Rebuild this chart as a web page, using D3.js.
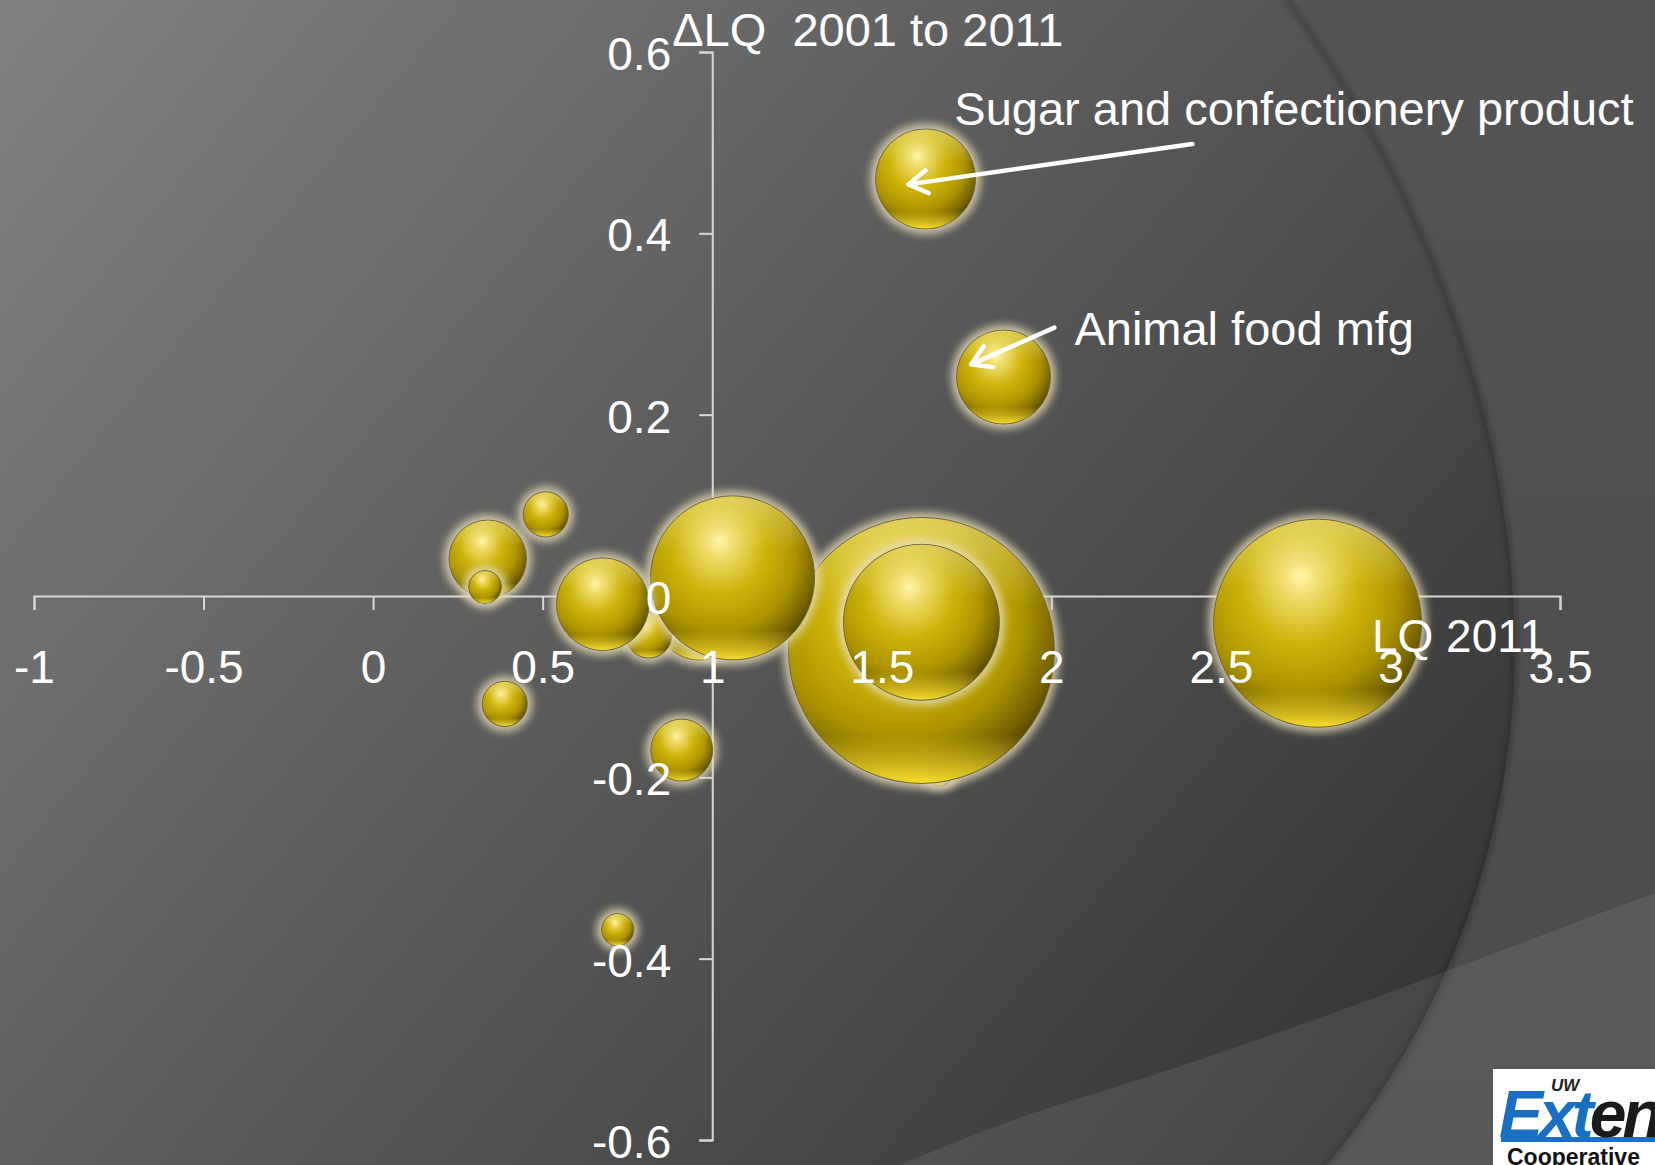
<!DOCTYPE html>
<html>
<head>
<meta charset="utf-8">
<script src="https://cdn.jsdelivr.net/npm/d3@7"></script>
<style>
  body { margin: 0; background: #444; }
  svg { display: block; font-family: "Liberation Sans", Arial, sans-serif; }
</style>
</head>
<body>
<div id="chart"></div>
<script>
// chart size
const width = 1655,
      height = 1165;

// bubble data, listed in drawing order (back to front)
const lq2011 = [1.67, 1.617, 1.617, 0.963, 0.813, 1.06, 0.677, 2.785, 0.338, 0.33, 0.509, 0.388, 0.91, 0.721, 1.629, 1.859];
const deltaLQ = [-0.194, -0.06, -0.029, -0.021, -0.043, 0.02, -0.009, -0.03, 0.041, 0.01, 0.09, -0.119, -0.17, -0.368, 0.46, 0.2415];
const bubbleSize = [200, 17690, 6080, 2030, 530, 6720, 2140, 10820, 1500, 270, 510, 510, 960, 260, 2500, 2210];

// axis ticks
const xTicks = [-1, -0.5, 0, 0.5, 1, 1.5, 2, 2.5, 3, 3.5];
const yTicks = [-0.6, -0.4, -0.2, 0, 0.2, 0.4, 0.6];

// callouts: label, text anchor, arrow tail and tip (data units)
const calloutLabels = ["Sugar and confectionery product", "Animal food mfg"];
const calloutText = [[1.714, 0.52], [2.068, 0.277]];
const calloutTail = [[2.416, 0.4985], [2.009, 0.296]];
const calloutTip = [[1.579, 0.454], [1.764, 0.2555]];

const data = lq2011.map((d, i) => ({x: d, y: deltaLQ[i], s: bubbleSize[i]}));

const svg = d3.select("#chart")
  .append("svg")
  .attr("width", width)
  .attr("height", height);

const defs = svg.append("defs");

// background gradient
const bg = defs.append("linearGradient")
  .attr("id", "bg")
  .attr("gradientUnits", "userSpaceOnUse")
  .attr("x1", 0).attr("y1", 0).attr("x2", 1400).attr("y2", 1165);
bg.append("stop").attr("offset", 0).attr("stop-color", "#818181");
bg.append("stop").attr("offset", 0.5).attr("stop-color", "#595959");
bg.append("stop").attr("offset", 1).attr("stop-color", "#343434");

const bgOut = defs.append("linearGradient")
  .attr("id", "bgOut")
  .attr("x1", 0).attr("y1", 0).attr("x2", 0).attr("y2", 1);
bgOut.append("stop").attr("offset", 0).attr("stop-color", "#545454");
bgOut.append("stop").attr("offset", 1).attr("stop-color", "#4a4a4a");

// gold sphere shading
const gold = defs.append("radialGradient")
  .attr("id", "gold")
  .attr("cx", 0.42).attr("cy", 0.4).attr("r", 0.7)
  .attr("fx", 0.42).attr("fy", 0.27);
[[0, "#fff6a6"], [0.13, "#f0dc6a"], [0.4, "#ccb30a"], [0.66, "#ad9400"], [0.84, "#766300"], [1, "#2e2600"]]
  .forEach(s => gold.append("stop").attr("offset", s[0]).attr("stop-color", s[1]));

const sheen = defs.append("linearGradient")
  .attr("id", "sheen")
  .attr("x1", 0).attr("y1", 0).attr("x2", 0).attr("y2", 1);
sheen.append("stop").attr("offset", 0).attr("stop-color", "#fff3b0").attr("stop-opacity", 0.5);
sheen.append("stop").attr("offset", 0.33).attr("stop-color", "#fff3b0").attr("stop-opacity", 0);
sheen.append("stop").attr("offset", 0.82).attr("stop-color", "#ffe030").attr("stop-opacity", 0);
sheen.append("stop").attr("offset", 1).attr("stop-color", "#ffe62e").attr("stop-opacity", 0.95);

defs.append("filter").attr("id", "glow")
  .attr("x", "-30%").attr("y", "-30%").attr("width", "160%").attr("height", "160%")
  .append("feGaussianBlur").attr("stdDeviation", 4);

defs.append("filter").attr("id", "soft")
  .append("feGaussianBlur").attr("stdDeviation", 3);

// background shapes
svg.append("rect")
  .attr("width", width).attr("height", height)
  .attr("fill", "url(#bg)");

const arc = "M1287,0 C1440,210 1528,470 1513,700 C1500,880 1430,1040 1327,1165";
svg.append("path")
  .attr("d", arc + " L1655,1165 L1655,0 Z")
  .attr("fill", "url(#bgOut)");
svg.append("path")
  .attr("d", arc)
  .attr("fill", "none")
  .attr("stroke", "#000")
  .attr("stroke-opacity", 0.35)
  .attr("stroke-width", 4)
  .attr("filter", "url(#soft)");

svg.append("path")
  .attr("d", "M1655,893 C1500,950 1300,1030 1100,1092 C1020,1115 960,1140 900,1165 L1655,1165 Z")
  .attr("fill", "#fff")
  .attr("fill-opacity", 0.08);

// scales
const xScale = d3.scaleLinear().domain([-1, 3.5]).range([34, 1560]);
const yScale = d3.scaleLinear().domain([-0.6, 0.6]).range([1140, 52]);
const rScale = d3.scaleSqrt().domain([0, d3.max(bubbleSize)]).range([0, 133]);

const axisColor = "#d8d8d8";

const xAxisGen = d3.axisBottom(xScale).tickValues(xTicks).tickSize(14).tickPadding(40)
  .tickFormat(d => String(d));
const yAxisGen = d3.axisLeft(yScale).tickValues(yTicks).tickSize(13).tickPadding(28)
  .tickFormat(d => String(d));

// axis lines sit behind the bubbles, the tick labels in front
function drawAxes(showLines) {
  const xg = svg.append("g")
    .attr("transform", "translate(0," + yScale(0) + ")")
    .call(xAxisGen);
  const yg = svg.append("g")
    .attr("transform", "translate(" + xScale(1) + ",0)")
    .call(yAxisGen);
  [xg, yg].forEach(g => {
    if (showLines) {
      g.select(".domain").attr("stroke", axisColor).attr("stroke-width", 2);
      g.selectAll(".tick line").attr("stroke", axisColor).attr("stroke-width", 2);
      g.selectAll(".tick text").remove();
    } else {
      g.select(".domain").remove();
      g.selectAll(".tick line").remove();
      g.selectAll(".tick text")
        .attr("fill", "#fff")
        .style("font-family", "'Liberation Sans', Arial, sans-serif")
        .style("font-size", "46px");
    }
  });
  if (!showLines) yg.selectAll(".tick text").attr("dy", "0.38em");
}

drawAxes(true);

// bubbles
const bubbles = svg.append("g")
  .selectAll("g")
  .data(data)
  .enter()
  .append("g")
  .attr("transform", d => "translate(" + xScale(d.x) + "," + yScale(d.y) + ")");

bubbles.append("circle")
  .attr("r", d => rScale(d.s) + 5)
  .attr("fill", "#e6dcb6")
  .attr("opacity", 0.85)
  .attr("filter", "url(#glow)");

bubbles.append("circle")
  .attr("r", d => rScale(d.s))
  .attr("fill", "url(#gold)")
  .attr("stroke", "#6f6540")
  .attr("stroke-width", 1);

bubbles.append("circle")
  .attr("r", d => rScale(d.s) - 0.5)
  .attr("fill", "url(#sheen)");

drawAxes(false);

// axis titles
svg.append("text")
  .attr("x", xScale(1) - 40)
  .attr("y", yScale(0.6) - 6)
  .attr("fill", "#fff")
  .style("font-size", "47px")
  .style("white-space", "pre")
  .text("\u0394LQ  2001 to 2011");

svg.append("text")
  .attr("x", xScale(3.5) - 15)
  .attr("y", yScale(0) + 56)
  .attr("text-anchor", "end")
  .attr("fill", "#fff")
  .style("font-size", "46px")
  .text("LQ 2011");

// callouts
calloutLabels.forEach((label, i) => {
  svg.append("text")
    .attr("x", xScale(calloutText[i][0]))
    .attr("y", yScale(calloutText[i][1]))
    .attr("fill", "#fff")
    .style("font-size", "47px")
    .text(label);

  const x1 = xScale(calloutTail[i][0]), y1 = yScale(calloutTail[i][1]);
  const x2 = xScale(calloutTip[i][0]), y2 = yScale(calloutTip[i][1]);
  const a = Math.atan2(y1 - y2, x1 - x2), len = 22, spread = 0.55;

  svg.append("line")
    .attr("x1", x1).attr("y1", y1).attr("x2", x2).attr("y2", y2)
    .attr("stroke", "#fff").attr("stroke-width", 4.5).attr("stroke-linecap", "round");

  svg.append("path")
    .attr("d", "M" + (x2 + len * Math.cos(a - spread)) + "," + (y2 + len * Math.sin(a - spread)) +
               "L" + x2 + "," + y2 +
               "L" + (x2 + len * Math.cos(a + spread)) + "," + (y2 + len * Math.sin(a + spread)))
    .attr("fill", "none")
    .attr("stroke", "#fff").attr("stroke-width", 4.5)
    .attr("stroke-linecap", "round").attr("stroke-linejoin", "round");
});

// logo in the corner (cut by the page edge, as in the slide)
const logo = svg.append("g").attr("transform", "translate(1493,1069)");
logo.append("rect").attr("width", 200).attr("height", 110).attr("fill", "#fff");
logo.append("text").attr("x", 58).attr("y", 22)
  .attr("fill", "#222").style("font-size", "17px").style("font-weight", "bold").style("font-style", "italic")
  .text("UW");
logo.append("rect").attr("x", 8).attr("y", 68).attr("width", 200).attr("height", 5).attr("fill", "#1a6fc4");
const brand = logo.append("text").attr("x", 6).attr("y", 68)
  .style("font-size", "66px").style("font-weight", "bold").style("font-style", "italic")
  .style("letter-spacing", "-4px");
brand.append("tspan").attr("fill", "#1a6fc4").text("Ext");
brand.append("tspan").attr("fill", "#1b1b1b").text("en");
logo.append("text").attr("x", 14).attr("y", 96)
  .attr("fill", "#111").style("font-size", "23px").style("font-weight", "bold")
  .text("Cooperative");
</script>
</body>
</html>
